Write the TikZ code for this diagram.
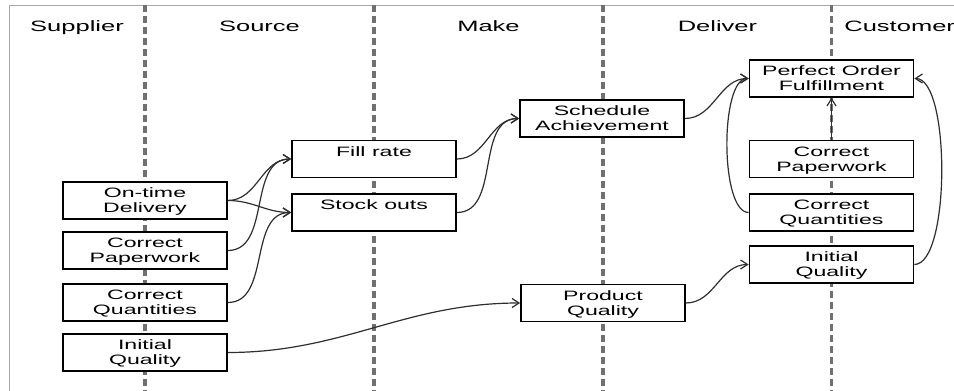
\documentclass[tikz,border=0pt]{standalone}
\usepackage{fontspec}
\setmainfont{Liberation Sans}[FakeStretch=1.7]
\usetikzlibrary{arrows.meta}
\definecolor{lanegray}{HTML}{707070}
\definecolor{framegray}{HTML}{A8A8A8}
\definecolor{linkgray}{HTML}{2E2E2E}
\newcommand\bxs{\rule[-1.35pt]{0pt}{7.5pt}}
\begin{document}
\begin{tikzpicture}[x=0.5pt,y=-0.5pt,
  metric/.style={draw=black, fill=white, line width=0.85pt, minimum width=82pt, minimum height=18.5pt, inner sep=0pt, align=center, font=\fontsize{6.8pt}{7.5pt}\selectfont},
  lanehead/.style={font=\fontsize{7.5pt}{9pt}\selectfont, anchor=base, inner sep=0pt},
  lane/.style={draw=lanegray, line width=1.7pt, dash pattern=on 3.4pt off 2.1pt},
  link/.style={draw=linkgray, line width=0.6pt, -{Straight Barb[length=3.5pt,width=4.5pt]}},
]
\useasboundingbox (0,0) rectangle (954,391);
\draw[framegray, line width=0.5pt] (9,391) -- (9,5) -- (954,5);
\foreach \lx in {145,374,603,831.5} \draw[lane] (\lx,5) -- (\lx,391);

\node[lanehead] (hsup) at (77,31.5) {Supplier};
\node[lanehead] (hsrc) at (259.5,31.5) {Source};
\node[lanehead] (hmak) at (488.5,31.5) {Make};
\node[lanehead] (hdel) at (717.5,31.5) {Deliver};
\node[lanehead, anchor=base west] (hcus) at (844,31.5) {Customer};

\node[metric] (otd) at (145,200.5) {\bxs On-time\\\bxs Delivery};
\node[metric] (cpl) at (145,250.5) {\bxs Correct\\\bxs Paperwork};
\node[metric] (cql) at (145,302.5) {\bxs Correct\\\bxs Quantities};
\node[metric] (iql) at (145,352.5) {\bxs Initial\\\bxs Quality};

\node[metric] (fill) at (374,159) {\bxs Fill rate\\\bxs};
\node[metric] (stock) at (374,212.5) {\bxs Stock outs\\\bxs};

\node[metric] (sched) at (602,118.5) {\bxs Schedule\\\bxs Achievement};
\node[metric] (prod) at (603,303) {\bxs Product\\\bxs Quality};

\node[metric] (pof) at (831.5,78.5) {\bxs Perfect Order\\\bxs Fulfillment};
\node[metric] (cpr) at (831.5,159) {\bxs Correct\\\bxs Paperwork};
\node[metric] (cqr) at (831.5,212.5) {\bxs Correct\\\bxs Quantities};
\node[metric] (iqr) at (831.5,264.5) {\bxs Initial\\\bxs Quality};

\draw[link] (otd.east) to[out=0,in=180] (fill.west);
\draw[link] (otd.east) to[out=0,in=180] (stock.west);
\draw[link] (cpl.east) to[out=0,in=180] (fill.west);
\draw[link] (cql.east) to[out=0,in=180] (stock.west);
\draw[link] (fill.east) to[out=0,in=180] (sched.west);
\draw[link] (stock.east) to[out=0,in=180] (sched.west);
\draw[link] (sched.east) to[out=0,in=180] (pof.west);
\draw[link] (iql.east) to[out=0,in=180] (prod.west);
\draw[link] (prod.east) to[out=0,in=180] (iqr.west);
\draw[link] (cpr) -- (pof);
\draw[link] (cqr.west) to[out=180,in=180,looseness=0.55] (pof.west);
\draw[link] (iqr.east) to[out=0,in=0,looseness=0.5] (pof.east);
\end{tikzpicture}
\end{document}
